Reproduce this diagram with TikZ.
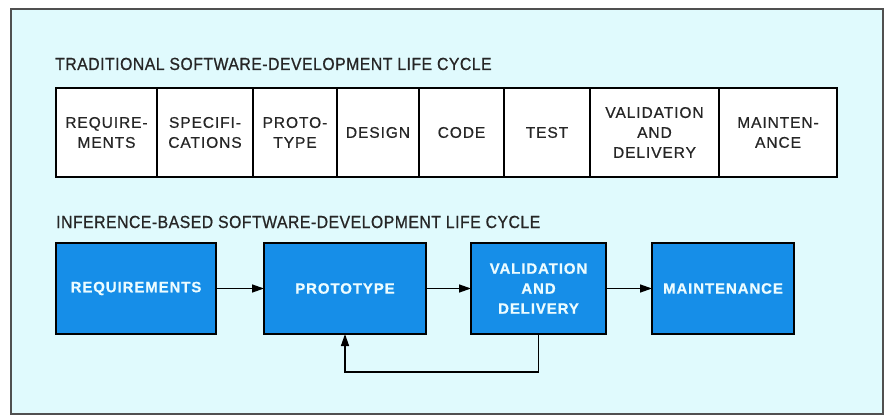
\documentclass[tikz,border=0pt]{standalone}
\usepackage{fontspec}
\setmainfont{Liberation Sans}
\newfontfamily\boxfont{Liberation Sans}[LetterSpace=6,FakeBold=0.6]
\newfontfamily\headfont{Liberation Sans}[FakeStretch=0.9,LetterSpace=3,FakeBold=0.8]
\usetikzlibrary{arrows.meta}
\definecolor{panelcyan}{RGB}{224,250,253}
\definecolor{stageblue}{RGB}{22,142,232}
\definecolor{stagetext}{RGB}{236,252,255}
\definecolor{framegray}{RGB}{80,80,80}

\begin{document}
\begin{tikzpicture}[x=1pt,y=-1pt]
\tikzset{
  heading/.style={anchor=base west,inner sep=0pt,font=\headfont\fontsize{17.5}{20}\selectfont,text=black!85},
  oldstage/.style={draw=black,line width=1.8pt,fill=white,inner sep=0pt,outer sep=0pt,
    minimum height=89pt,align=center,font=\boxfont\fontsize{15.5}{20}\selectfont,text=black!85},
  newstage/.style={draw=black,line width=2pt,fill=stageblue,inner sep=0pt,outer sep=0pt,
    minimum height=91pt,align=center,font=\boxfont\bfseries\fontsize{15}{20}\selectfont,text=stagetext},
  flow/.style={-{Triangle[length=12pt,width=8pt]},line width=1.4pt}
}
\useasboundingbox (0,0) rectangle (886,417);
\fill[white] (0,0) rectangle (886,417);
\draw[framegray,line width=1.6pt,fill=panelcyan] (11,9) rectangle (883,414);
% headings
\node[heading] (h_trad) at (55,70) {TRADITIONAL SOFTWARE-DEVELOPMENT LIFE CYCLE};
\node[heading] (h_inf) at (56,228) {INFERENCE-BASED SOFTWARE-DEVELOPMENT LIFE CYCLE};
% traditional life cycle
\node[oldstage,minimum width=101pt] (t_req) at (106.5,132.5) {REQUIRE-\\MENTS};
\node[oldstage,minimum width=96pt] (t_spec) at (205,132.5) {SPECIFI-\\CATIONS};
\node[oldstage,minimum width=84pt] (t_proto) at (295,132.5) {PROTO-\\TYPE};
\node[oldstage,minimum width=82pt] (t_design) at (378,132.5) {DESIGN};
\node[oldstage,minimum width=85pt] (t_code) at (461.5,132.5) {CODE};
\node[oldstage,minimum width=86pt] (t_test) at (547,132.5) {TEST};
\node[oldstage,minimum width=129pt] (t_val) at (654.5,132.5) {VALIDATION\\AND\\DELIVERY};
\node[oldstage,minimum width=118pt] (t_maint) at (778,132.5) {MAINTEN-\\ANCE};
% inference-based life cycle
\node[newstage,minimum width=160pt] (b_req) at (136,288.5) {REQUIREMENTS};
\node[newstage,minimum width=162pt] (b_proto) at (345,288.5) {PROTOTYPE};
\node[newstage,minimum width=135pt] (b_val) at (538.5,288.5) {VALIDATION\\AND\\DELIVERY};
\node[newstage,minimum width=142pt] (b_maint) at (723,288.5) {MAINTENANCE};
\draw[flow] (b_req) -- (b_proto);
\draw[flow] (b_proto) -- (b_val);
\draw[flow] (b_val) -- (b_maint);
\draw[flow] (b_val.south) -- ++(0,38) -| (b_proto.south);
\end{tikzpicture}
\end{document}
